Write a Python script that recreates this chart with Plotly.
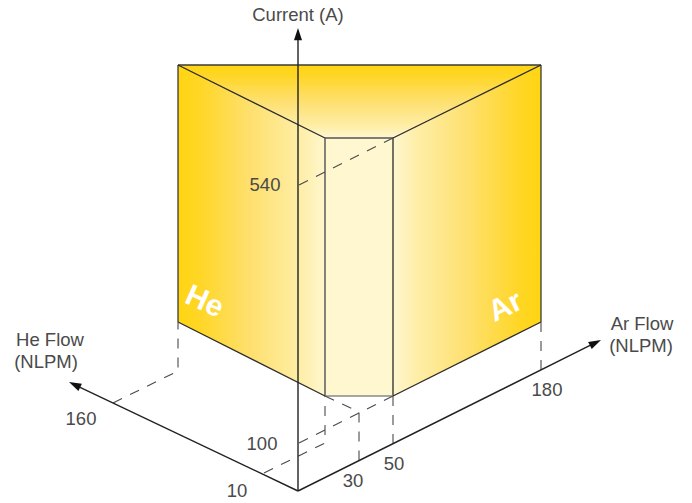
import plotly.graph_objects as go

# schematic drawn on a 692x503 plane, y pointing down like the source figure
LEFT_FACE_X = [178, 325, 325, 178]
LEFT_FACE_Y = [65, 138, 396, 322]
RIGHT_FACE_X = [393, 541, 541, 393]
RIGHT_FACE_Y = [138, 65, 322, 396]
TOP_FACE_X = [178, 541, 393, 325]
TOP_FACE_Y = [65, 65, 138, 138]
MIDDLE_FACE_X = [325, 393, 393, 325]
MIDDLE_FACE_Y = [138, 138, 396, 396]

OUTLINE = [
    # [xs, ys, color]
    [[178, 541], [65, 65], '#3a3a3a'],
    [[178, 178], [65, 322], '#3a3a3a'],
    [[541, 541], [65, 322], '#3a3a3a'],
    [[178, 325], [65, 138], '#2a2a2a'],
    [[541, 393], [65, 138], '#2a2a2a'],
    [[325, 393], [138, 138], '#555555'],
    [[325, 325], [138, 396], '#444444'],
    [[393, 393], [138, 396], '#2a2a2a'],
    [[178, 325], [322, 396], '#2a2a2a'],
    [[541, 393], [322, 396], '#2a2a2a'],
    [[325, 393], [396, 396], '#8a8a8a'],
]

DASHED = [
    [[299, 393], [185, 138]],
    [[113, 178, 178], [403, 371, 322]],
    [[299, 393], [443, 396]],
    [[264, 325, 325], [473, 443, 396]],
    [[325, 359, 359], [396, 412, 462]],
    [[393, 393], [396, 443]],
    [[541, 541], [322, 370]],
]

AXES = [
    [[298, 298], [491, 28]],
    [[298, 69], [491, 382]],
    [[298, 601], [491, 340]],
]

LABELS = ['Current (A)', 'He Flow', '(NLPM)', 'Ar Flow', '(NLPM)',
          '540', '160', '10', '100', '30', '50', '180']
LABEL_X = [298, 50, 46, 642, 641, 265, 81, 237, 262, 353, 394, 547]
LABEL_Y = [16, 341, 363, 325, 347, 186, 420, 492, 445, 482, 465, 391]

YELLOW_FADE = [[0, '#FFD512'], [0.14, '#FFD624'], [0.5, '#FEE070'], [0.82, '#FEEDA4'], [1, '#FEF7CF']]
FADE_YELLOW = [[1 - p, c] for p, c in reversed(YELLOW_FADE)]

fig = go.Figure()


def add_face(xs, ys, gradient_type, start, stop, scale):
    fig.add_trace(go.Scatter(x=xs + xs[:1], y=ys + ys[:1], mode='lines', fill='toself',
                             line=dict(width=0),
                             fillgradient=dict(type=gradient_type, start=start, stop=stop, colorscale=scale)))


add_face(LEFT_FACE_X, LEFT_FACE_Y, 'horizontal', 178, 325, YELLOW_FADE)
add_face(RIGHT_FACE_X, RIGHT_FACE_Y, 'horizontal', 393, 541, FADE_YELLOW)
add_face(TOP_FACE_X, TOP_FACE_Y, 'vertical', 65, 138, YELLOW_FADE)
fig.add_trace(go.Scatter(x=MIDDLE_FACE_X + MIDDLE_FACE_X[:1], y=MIDDLE_FACE_Y + MIDDLE_FACE_Y[:1],
                         mode='lines', fill='toself', fillcolor='#FEF7CF', line=dict(width=0)))

for xs, ys, color in OUTLINE:
    fig.add_trace(go.Scatter(x=xs, y=ys, mode='lines', line=dict(color=color, width=1.3)))

for xs, ys in DASHED:
    fig.add_trace(go.Scatter(x=xs, y=ys, mode='lines', line=dict(color='#4a4a4a', width=1.1, dash='10px,9px')))

for xs, ys in AXES:
    fig.add_trace(go.Scatter(x=xs, y=ys, mode='lines+markers', line=dict(color='#222222', width=1.4),
                             marker=dict(symbol='arrow', size=[0, 13], angleref='previous', color='#111111',
                                         opacity=1, line=dict(width=0))))

fig.add_trace(go.Scatter(x=LABEL_X, y=LABEL_Y, mode='text', text=LABELS,
                         textposition='middle center',
                         textfont=dict(family='Liberation Sans', size=18.5, color='#4a4a4a')))

fig.add_annotation(x=205, y=300, text='<b>He</b>', showarrow=False, textangle=24,
                   font=dict(family='Liberation Sans', size=30, color='white'))
fig.add_annotation(x=505, y=305, text='<b>Ar</b>', showarrow=False, textangle=-26,
                   font=dict(family='Liberation Sans', size=30, color='white'))

fig.update_layout(width=692, height=503, margin=dict(l=0, r=0, t=0, b=0), showlegend=False,
                  paper_bgcolor='white', plot_bgcolor='white')
fig.update_xaxes(range=[0, 692], visible=False)
fig.update_yaxes(range=[503, 0], visible=False)

fig.write_html("out.html", config=dict(displayModeBar=False), post_script="document.body.style.margin='0';")
